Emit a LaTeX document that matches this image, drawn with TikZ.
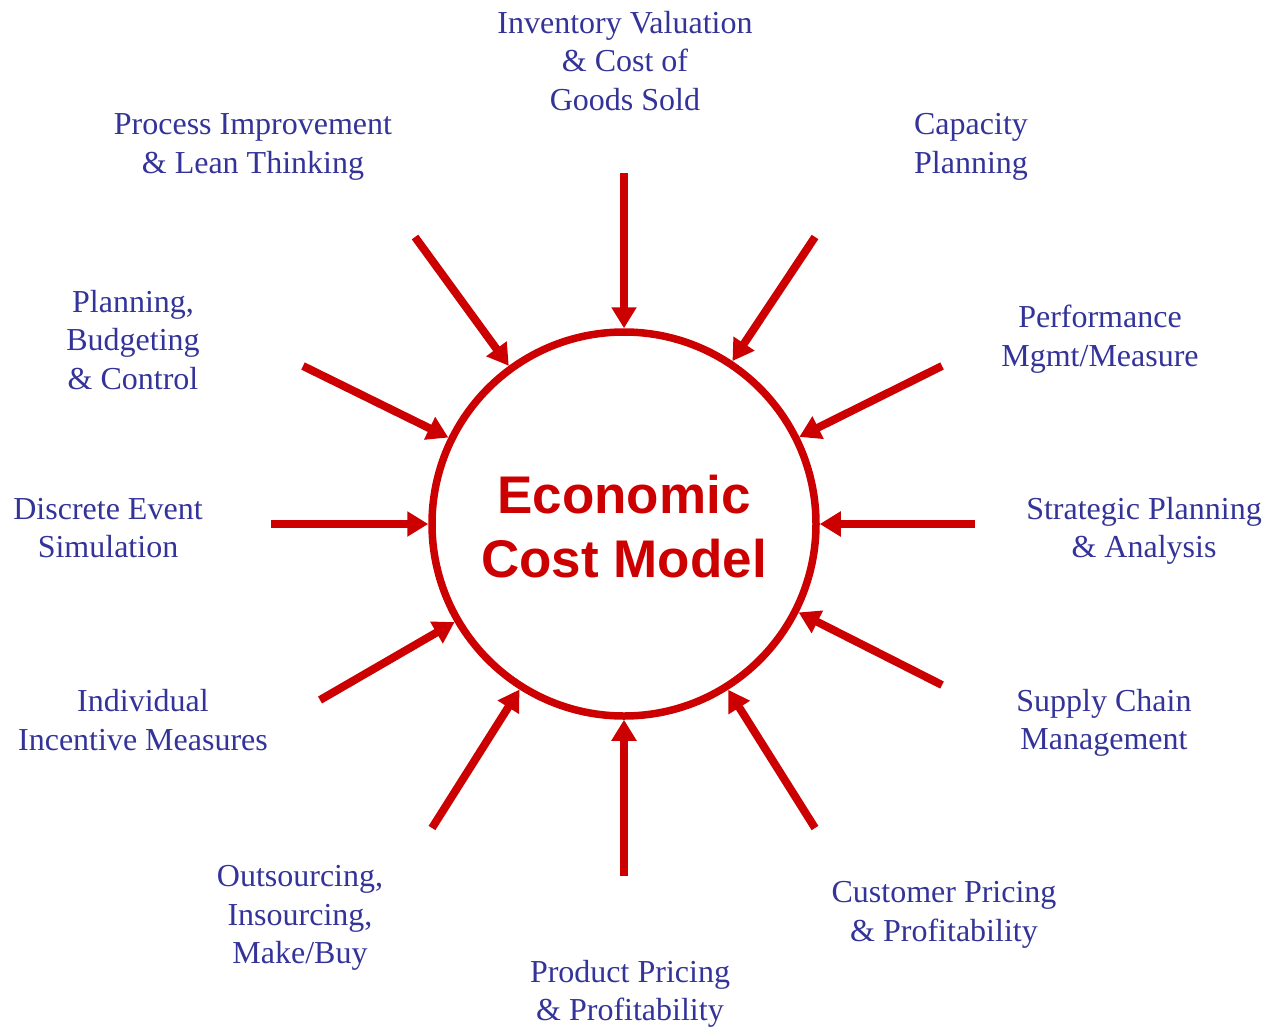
\documentclass[tikz,border=0pt]{standalone}
\usepackage{fontspec}
\setmainfont{Liberation Serif}
\newfontfamily\hubfont{Liberation Sans}
\usetikzlibrary{arrows.meta}
\definecolor{topicblue}{RGB}{51,51,153}
\definecolor{hubred}{RGB}{204,0,0}
\tikzset{
  topic/.style   = {align=center, text=topicblue, inner sep=0pt,
                    font=\fontsize{32}{38.5}\selectfont},
  hub/.style     = {shape=circle, draw=hubred, line width=7.5pt,
                    minimum size=384pt, inner sep=0pt},
  hubtext/.style = {align=center, text=hubred, yshift=-3pt,
                    font=\hubfont\bfseries\fontsize{53}{64}\selectfont},
  feed/.style    = {draw=hubred, line width=8pt,
                    -{Triangle[width=24pt,length=21pt]}}
}

\begin{document}
\begin{tikzpicture}[x=1pt, y=-1pt]
  \useasboundingbox (0,0) rectangle (1268,1026);

  \node [hub, label={[hubtext]center:Economic\\Cost Model}] (econ) at (624,524) {};

  % topics round the model
  \node [topic] (inv)    at (625,61)   {Inventory Valuation\\\& Cost of\\Goods Sold};
  \node [topic] (proc)   at (253,147)  {Process Improvement\\\& Lean Thinking};
  \node [topic] (cap)    at (971,147)  {Capacity\\Planning};
  \node [topic] (plan)   at (133,340)  {Planning,\\Budgeting\\\& Control};
  \node [topic] (perf)   at (1100,339) {Performance\\Mgmt/Measure};
  \node [topic] (disc)   at (108,528)  {Discrete Event\\Simulation};
  \node [topic] (strat)  at (1144,531) {Strategic Planning\\\& Analysis};
  \node [topic] (indiv)  at (143,720)  {Individual\\Incentive Measures};
  \node [topic] (supply) at (1104,723) {Supply Chain\\Management};
  \node [topic] (outs)   at (300,918)  {Outsourcing,\\Insourcing,\\Make/Buy};
  \node [topic] (cust)   at (944,915)  {Customer Pricing\\\& Profitability};
  \node [topic] (prod)   at (630,994)  {Product Pricing\\\& Profitability};

  % arrow tails
  \coordinate (t-inv)    at (624,173);
  \coordinate (t-cap)    at (815,237);
  \coordinate (t-perf)   at (942,366);
  \coordinate (t-strat)  at (975,524);
  \coordinate (t-supply) at (942,685);
  \coordinate (t-cust)   at (815,828);
  \coordinate (t-prod)   at (624,876);
  \coordinate (t-outs)   at (432,828);
  \coordinate (t-indiv)  at (320,700);
  \coordinate (t-disc)   at (271,524);
  \coordinate (t-plan)   at (303,366);
  \coordinate (t-proc)   at (415,237);

  \draw [feed] (t-inv)    -- (econ);
  \draw [feed] (t-cap)    -- (econ);
  \draw [feed] (t-perf)   -- (econ);
  \draw [feed] (t-strat)  -- (econ);
  \draw [feed] (t-supply) -- (econ);
  \draw [feed] (t-cust)   -- (econ);
  \draw [feed] (t-prod)   -- (econ);
  \draw [feed] (t-outs)   -- (econ);
  \draw [feed] (t-indiv)  -- (econ);
  \draw [feed] (t-disc)   -- (econ);
  \draw [feed] (t-plan)   -- (econ);
  \draw [feed] (t-proc)   -- (econ);
\end{tikzpicture}
\end{document}
